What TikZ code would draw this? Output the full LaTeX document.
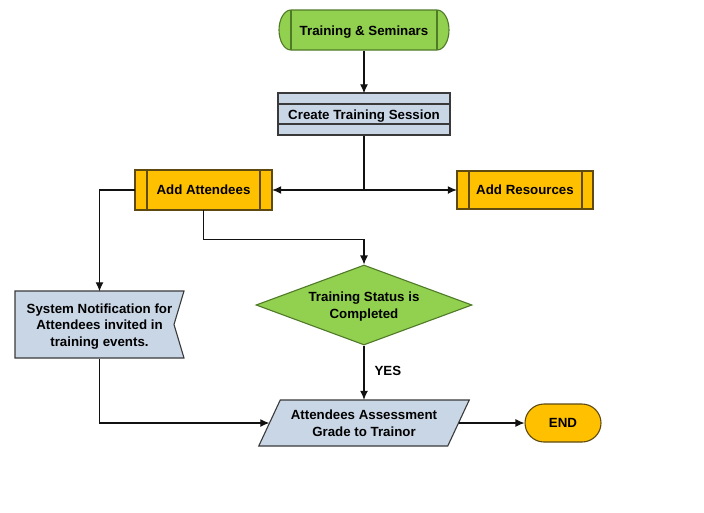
\documentclass[tikz,border=0pt]{standalone}
\usepackage{fontspec}
\setmainfont{Liberation Sans}
\usetikzlibrary{shapes.geometric,arrows.meta}
\definecolor{gfill}{HTML}{92D050}
\definecolor{gline}{HTML}{4F7A28}
\definecolor{ofill}{HTML}{FFC000}
\definecolor{oline}{HTML}{5E4A10}
\definecolor{bfill}{HTML}{C9D6E6}
\definecolor{bline}{HTML}{3A3A3A}
\definecolor{cline}{HTML}{111111}
\tikzset{
  lbl/.style={font=\fontsize{13.3}{16.5}\selectfont\bfseries, align=center, inner sep=0pt, text depth=0pt},
  gshape/.style={fill=gfill, draw=gline, line width=1.1pt},
  oshape/.style={fill=ofill, draw=oline, line width=1.1pt},
  bshape/.style={fill=bfill, draw=bline, line width=1.1pt},
  conn/.style={draw=cline, line width=1.1pt},
  arr/.style={conn, -{Latex[length=9pt,width=8pt]}},
}
\begin{document}
\begin{tikzpicture}[x=1pt,y=-1pt]
\useasboundingbox[fill=white] (0,0) rectangle (704,512);

% Start terminator
\path[gshape] (291,10) -- (437,10) arc[start angle=-90, end angle=90, x radius=12, y radius=20]
  -- (291,50) arc[start angle=90, end angle=270, x radius=12, y radius=20] -- cycle;
\draw[gline, line width=1.1pt] (291,10) -- (291,50) (437,10) -- (437,50);
\node[lbl, minimum width=170, minimum height=40] (start) at (364,30.5) {Training \& Seminars};

% Create Training Session
\path[bshape] (278,93) rectangle (450,135);
\draw[bline, line width=1.1pt] (278,104) -- (450,104) (278,124) -- (450,124);
\node[lbl, minimum width=172, minimum height=42] (create) at (364,114.5) {Create Training Session};

% Add Attendees
\path[oshape] (135,170) rectangle (272,210);
\draw[oline, line width=1.1pt] (147,170) -- (147,210) (260,170) -- (260,210);
\node[lbl, minimum width=137, minimum height=40] (attend) at (203.5,190) {Add Attendees};

% Add Resources
\path[oshape] (457,171) rectangle (593,209);
\draw[oline, line width=1.1pt] (469,171) -- (469,209) (582,171) -- (582,209);
\node[lbl, minimum width=136, minimum height=38] (res) at (525,190) {Add Resources};

% System notification
\path[bshape] (15,291) -- (184,291) -- (174,324.5) -- (184,358) -- (15,358) -- cycle;
\node[lbl, minimum width=169, minimum height=67] (notif) at (99.5,325)
  {System Notification for\\Attendees invited in\\training events.};

% Decision
\node[diamond, gshape, lbl, aspect=2.7, minimum width=216, minimum height=80] (dia) at (364,305)
  {Training Status is\\Completed};

% Parallelogram
\path[bshape] (280.25,400) -- (469.25,400) -- (447.75,446) -- (258.75,446) -- cycle;
\node[lbl, minimum width=189, minimum height=46] (para) at (364,423)
  {Attendees Assessment\\Grade to Trainor};

% End
\node[oshape, lbl, rounded corners=19pt, minimum width=76, minimum height=38] (end) at (563,423) {END};

% Connectors
\draw[arr] (start.south) -- (create.north);
\coordinate (j) at (create.south |- attend.east);
\draw[conn] (create.south) -- (j);
\draw[arr] (j) -- (attend.east);
\draw[arr] (j) -- (res.west);
\draw[arr] (attend.west) -| (notif.north);
\draw[arr] (attend.south) -- ++(0,29) -| (dia.north);
\draw[arr] (dia.south) -- node[lbl, right=10pt, pos=0.47] {YES} (para.north);
\draw[arr] (notif.south) |- (para.west);
\draw[arr] (para.east) -- (end.west);
\end{tikzpicture}
\end{document}
